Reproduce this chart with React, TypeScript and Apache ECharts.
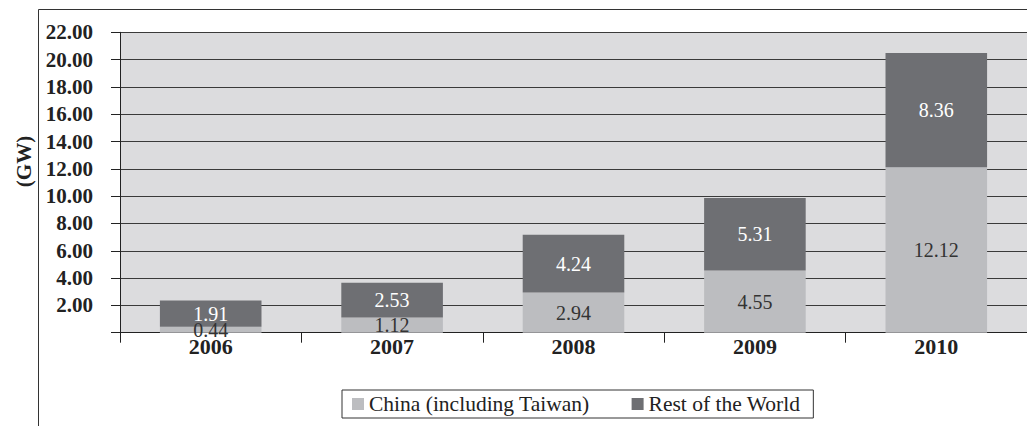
import React, { useEffect, useRef } from "react";
import * as echarts from "echarts";

const years = ["2006", "2007", "2008", "2009", "2010"];
const china = [0.44, 1.12, 2.94, 4.55, 12.12];
const restOfWorld = [1.91, 2.53, 4.24, 5.31, 8.36];
const seriesNames = ["China (including Taiwan)", "Rest of the World"];

const SERIF = "'Liberation Serif', 'DejaVu Serif', serif";

export default function App() {
  const ref = useRef<HTMLDivElement>(null);

  useEffect(() => {
    if (!ref.current) return;
    const chart = echarts.init(ref.current, null, { renderer: "svg" });
    chart.setOption({
      animation: false,
      backgroundColor: "#ffffff",
      textStyle: { fontFamily: SERIF },
      graphic: [
        {
          type: "rect",
          silent: true,
          z: -10,
          shape: { x: 38.5, y: 9.5, width: 1100, height: 500 },
          style: { fill: "none", stroke: "#333333", lineWidth: 1 },
        },
      ],
      grid: {
        left: 120,
        top: 32.3,
        width: 911.25,
        height: 300.4,
        show: true,
        backgroundColor: "#dcdcde",
        borderWidth: 0,
      },
      legend: {
        data: seriesNames,
        left: 342,
        top: 390,
        padding: [3, 13, 3, 10],
        itemGap: 42,
        itemWidth: 12,
        itemHeight: 12,
        icon: "rect",
        borderColor: "#333333",
        borderWidth: 1,
        textStyle: { fontFamily: SERIF, fontSize: 21.5, color: "#222222" },
      },
      xAxis: {
        type: "category",
        data: years,
        axisLine: { show: true, lineStyle: { color: "#222222", width: 1 } },
        axisTick: { show: true, interval: 0, length: 10, lineStyle: { color: "#222222" } },
        axisLabel: {
          fontFamily: SERIF,
          fontWeight: "bold",
          fontSize: 22,
          color: "#222222",
          margin: 3,
        },
      },
      yAxis: {
        type: "value",
        min: 0,
        max: 22,
        interval: 2,
        name: "(GW)",
        nameLocation: "middle",
        nameGap: 86,
        nameRotate: 90,
        nameTextStyle: {
          fontFamily: SERIF,
          fontWeight: "bold",
          fontSize: 21,
          color: "#222222",
          padding: [0, 0, 0, 42],
        },
        axisLine: { show: true, lineStyle: { color: "#222222", width: 1 } },
        axisTick: { show: true, length: 9, lineStyle: { color: "#222222" } },
        splitLine: { show: true, lineStyle: { color: "#3a3a3a", width: 1 } },
        axisLabel: {
          fontFamily: SERIF,
          fontWeight: "bold",
          fontSize: 21,
          color: "#222222",
          margin: 27,
          formatter: (v: number) => (v === 0 ? "" : v.toFixed(2)),
        },
      },
      series: [
        {
          name: seriesNames[0],
          type: "bar",
          stack: "total",
          barWidth: "56%",
          data: china,
          itemStyle: { color: "#bcbdc0" },
          label: {
            show: true,
            position: "inside",
            fontFamily: SERIF,
            fontSize: 20,
            color: "#333333",
            formatter: (p: any) => p.value.toFixed(2),
          },
        },
        {
          name: seriesNames[1],
          type: "bar",
          stack: "total",
          barWidth: "56%",
          data: restOfWorld,
          itemStyle: { color: "#6e6f73" },
          label: {
            show: true,
            position: "inside",
            fontFamily: SERIF,
            fontSize: 20,
            color: "#ffffff",
            formatter: (p: any) => p.value.toFixed(2),
          },
        },
      ],
    });
    return () => chart.dispose();
  }, []);

  return (
    <div
      ref={ref}
      style={{ position: "absolute", left: 0, top: 0, width: 1027, height: 426 }}
    />
  );
}
